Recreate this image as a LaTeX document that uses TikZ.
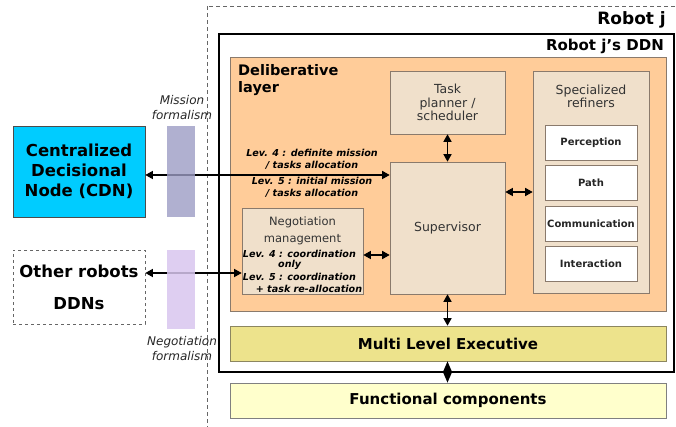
\documentclass[tikz,border=0pt]{standalone}
\usepackage{fontspec}
\setmainfont{DejaVu Sans}
\usetikzlibrary{arrows.meta,calc}

\definecolor{peach}{HTML}{FFCC99}
\definecolor{beige}{HTML}{F0E0CB}
\definecolor{beigeline}{HTML}{8A7A6C}
\definecolor{khaki}{HTML}{EDE38C}
\definecolor{khakiline}{HTML}{8C8660}
\definecolor{cream}{HTML}{FFFFCC}
\definecolor{cdnblue}{HTML}{00CCFF}
\definecolor{missionbar}{HTML}{9C9CC4}
\definecolor{negobar}{HTML}{D8C6EE}

\tikzset{
  module/.style={draw=beigeline, fill=beige, line width=0.6pt, inner sep=0pt},
  refiner/.style={draw=beigeline, fill=white, line width=0.6pt, inner sep=0pt,
    minimum width=92pt, minimum height=35pt, font=\bfseries\fontsize{10}{12}\selectfont, text=black!85},
  band/.style={line width=0.6pt, inner sep=0pt, minimum width=436pt, minimum height=35pt,
    font=\bfseries\fontsize{15}{18}\selectfont},
  biarrow/.style={line width=1.4pt, {Triangle[length=7.5pt,width=8pt]}-{Triangle[length=7.5pt,width=8pt]}},
  levtext/.style={font=\bfseries\itshape\fontsize{9.6}{12}\selectfont, align=center, inner sep=0pt},
  bigtext/.style={font=\bfseries\fontsize{16.5}{20}\selectfont, align=center},
  formtext/.style={font=\itshape\fontsize{12}{15}\selectfont, align=center, inner sep=0pt, text=black!85},
  regtext/.style={font=\fontsize{12.5}{13.5}\selectfont, align=center, inner sep=0pt, text=black!80}
}

\begin{document}
\begin{tikzpicture}[x=1pt,y=-1pt]
\useasboundingbox (0,0) rectangle (676,427);

% robot j boundary and its DDN
\draw[gray!80!black, line width=0.6pt, dash pattern=on 4pt off 3pt] (207,6) rectangle (700,440);
\node[font=\bfseries\fontsize{17}{20}\selectfont, anchor=east, inner sep=0pt] (robotj) at (666,20) {Robot j};
\draw[line width=1.6pt] (219,34) rectangle (674,372);
\node[font=\bfseries\fontsize{15}{18}\selectfont, anchor=east, inner sep=0pt] (ddnlabel) at (664,46) {Robot j’s DDN};

% deliberative layer
\node[draw=beigeline, fill=peach, line width=0.6pt, minimum width=436pt, minimum height=254pt,
  anchor=north west, inner sep=0pt] (delib) at (230,57) {};
\node[font=\bfseries\fontsize{14.5}{17.5}\selectfont, align=left, anchor=north west, inner sep=0pt]
  (deliblabel) at (238,64) {Deliberative\\layer};

% modules of the deliberative layer
\node[module, minimum width=115pt, minimum height=63pt, regtext] (task) at (447.5,102.5)
  {Task\\planner /\\scheduler};
\node[module, minimum width=115pt, minimum height=132pt, regtext] (sup) at (447.5,228) {Supervisor};
\node[module, minimum width=116pt, minimum height=222pt] (ref) at (591,182) {};
\node[regtext, anchor=north] (reflabel) at ($(ref.north)+(0,14)$) {Specialized\\refiners};
\node[refiner] (perc) at (591,143) {Perception};
\node[refiner] (path) at (591,183) {Path};
\node[refiner] (comm) at (591,223.5) {Communication};
\node[refiner] (inter) at (591,263.5) {Interaction};

\node[module, minimum width=121pt, minimum height=86pt] (neg) at (302.5,251) {};
\node[font=\fontsize{11.5}{17}\selectfont, align=center, inner sep=0pt, text=black!80]
  (negtitle) at ($(neg.north)+(0,23)$) {Negotiation\\management};
\node[levtext, anchor=west] (neg4) at ($(neg.north west)+(1,46)$) {Lev. 4 : coordination};
\node[levtext] (neg4b) at ($(neg.north west)+(48,57)$) {only};
\node[levtext, anchor=west] (neg5) at ($(neg.north west)+(1,69)$) {Lev. 5 : coordination};
\node[levtext, anchor=east] (neg5b) at ($(neg.north east)+(-1,81)$) {+ task re-allocation};

% executive and functional layers
\node[band, draw=khakiline, fill=khaki] (mle) at (448,343.5) {Multi Level Executive};
\node[band, draw=gray, fill=cream] (func) at (448,400.5) {Functional components};

% external nodes
\node[draw=black!70, fill=cdnblue, line width=0.6pt, minimum width=132pt, minimum height=91pt,
  bigtext] (cdn) at (79,171.5) {Centralized\\Decisional\\Node (CDN)};
\node[draw=gray!80!black, dashed, line width=0.6pt, minimum width=132pt, minimum height=74pt,
  font=\bfseries\fontsize{16.5}{32}\selectfont, align=center] (others) at (79,287) {Other robots\\DDNs};

% connectors
\coordinate (cdnport) at ([yshift=-3.5pt]cdn.east);
\draw[biarrow] (cdnport) -- (cdnport -| sup.west);
\coordinate (othport) at ([yshift=14pt]others.east);
\draw[biarrow] (othport) -- (othport -| neg.west);
\coordinate (negport) at ([yshift=-4pt]neg.east);
\draw[biarrow] (negport) -- (negport -| sup.west);
\coordinate (refport) at ([yshift=-10pt]ref.west);
\draw[biarrow] (refport) -- (refport -| sup.east);
\draw[biarrow] (task.south) -- (sup.north);
\draw[biarrow] (sup.south) -- (sup.south |- mle.north);
\draw[line width=1.4pt, {Triangle[length=11pt,width=9pt]}-{Triangle[length=11pt,width=9pt]}]
  (sup.south |- mle.south) -- (sup.south |- func.north);

% formalism bars, laid over the links
\fill[missionbar, fill opacity=0.8] (167,126) rectangle (195,217);
\fill[negobar, fill opacity=0.85] (167,250) rectangle (195,329);
\node[formtext] (missionlabel) at (182,108) {Mission\\formalism};
\node[formtext] (negolabel) at (182,349) {Negotiation\\formalism};

% levels exchanged with the CDN
\node[levtext] (lev4) at (312,159) {Lev. 4 : definite mission\\/ tasks allocation};
\node[levtext] (lev5) at (312,187) {Lev. 5 : initial mission\\/ tasks allocation};
\end{tikzpicture}
\end{document}
